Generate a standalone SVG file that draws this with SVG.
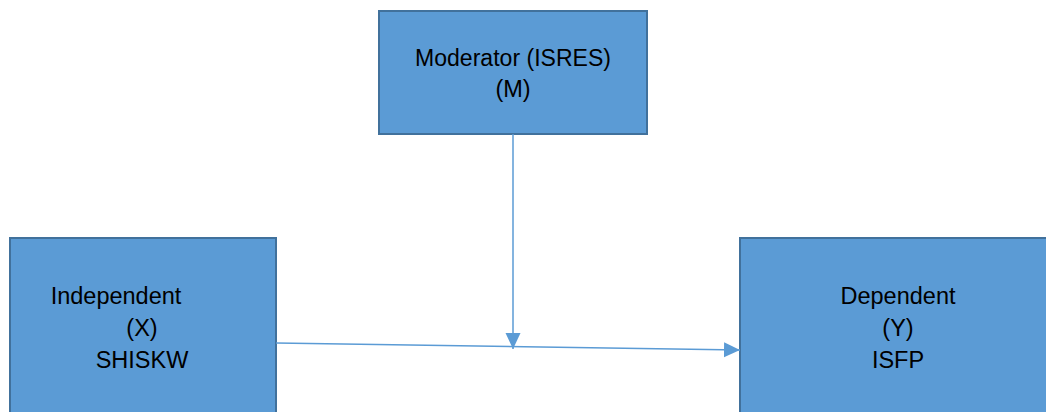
<svg xmlns="http://www.w3.org/2000/svg" width="1046" height="412" viewBox="0 0 1046 412">
  <style>
    .box { fill: #5B9BD5; stroke: #41719C; stroke-width: 2; }
    .lbl { font-family: "Liberation Sans", Arial, sans-serif; font-size: 23.5px; fill: #000; text-anchor: middle; }
    .conn { stroke: #5B9BD5; stroke-width: 1.5; fill: none; }
  </style>
  <defs>
    <marker id="arrow" markerUnits="userSpaceOnUse" markerWidth="17" markerHeight="16" refX="16" refY="7.5" orient="auto">
      <path d="M0,0 L16,7.5 L0,15 z" fill="#5B9BD5"/>
    </marker>
  </defs>

  <!-- moderator -->
  <g id="moderator">
    <rect class="box" x="379" y="11" width="268" height="123"/>
    <text class="lbl" x="513" y="66" textLength="196" lengthAdjust="spacingAndGlyphs">Moderator (ISRES)</text>
    <text class="lbl" x="513" y="97">(M)</text>
  </g>

  <!-- independent variable -->
  <g id="independent">
    <rect class="box" x="10" y="238" width="266" height="190"/>
    <text class="lbl" x="116" y="304">Independent</text>
    <text class="lbl" x="142" y="336">(X)</text>
    <text class="lbl" x="142" y="368">SHISKW</text>
  </g>

  <!-- dependent variable -->
  <g id="dependent">
    <rect class="box" x="740" y="238" width="320" height="190"/>
    <text class="lbl" x="898" y="304">Dependent</text>
    <text class="lbl" x="898" y="336">(Y)</text>
    <text class="lbl" x="898" y="368">ISFP</text>
  </g>

  <!-- connectors -->
  <g id="connectors">
    <line class="conn" x1="513" y1="134" x2="513" y2="349" marker-end="url(#arrow)"/>
    <line class="conn" x1="276" y1="343" x2="740" y2="350" marker-end="url(#arrow)"/>
  </g>
</svg>
